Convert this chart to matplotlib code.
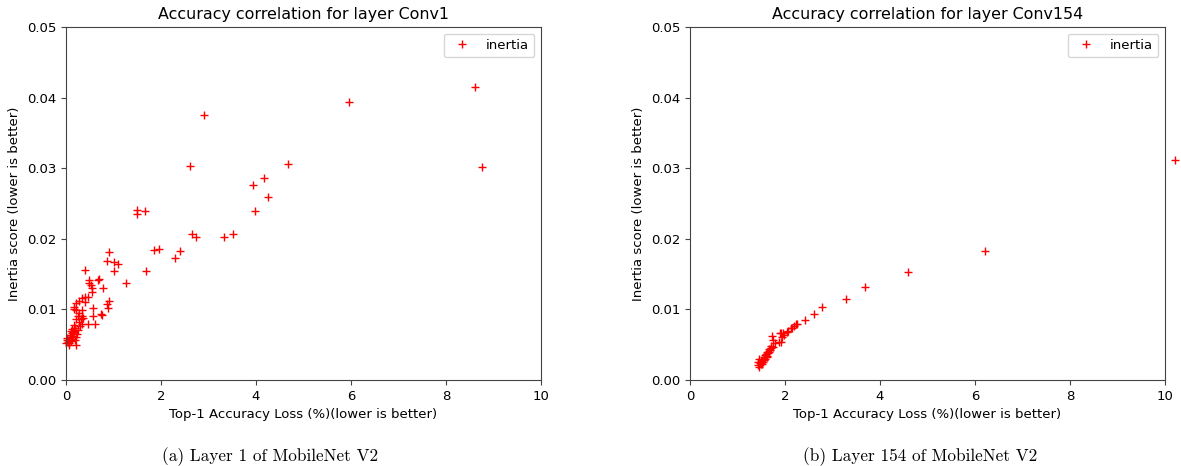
import matplotlib
matplotlib.use("Agg")
import matplotlib.pyplot as plt

# Layer 1 (Conv1): top-1 accuracy loss (%) vs inertia score
conv1_loss = [8.61, 8.76, 5.96, 2.91, 2.61, 4.67, 4.17, 3.94, 4.25, 3.98,
              3.52, 3.33, 2.74, 2.65, 2.40, 2.29, 1.96, 1.85, 1.66, 1.49,
              1.49, 1.68, 1.27, 1.09, 1.02, 0.87, 0.91, 1.01, 0.40, 0.70,
              0.67, 0.48, 0.53, 0.55, 0.49, 0.77, 0.55, 0.41, 0.46, 0.34,
              0.27, 0.39, 0.20, 0.17, 0.21, 0.17, 0.91, 0.86, 0.89, 0.57,
              0.34, 0.33, 0.56, 0.74, 0.75, 0.60, 0.46, 0.25, 0.22, 0.31,
              0.28, 0.33, 0.17, 0.19, 0.15, 0.26, 0.12, 0.08, 0.05, 0.19,
              0.07, 0.22, 0.01, 0.03, 0.10, 0.14, 0.24, 0.11, 0.18, 0.30,
              0.06, 0.13, 0.02, 0.21, 0.09, 0.16, 0.36, 0.28, 0.12, 0.04]
conv1_score = [0.0415, 0.0302, 0.0394, 0.0375, 0.0303, 0.0306, 0.0286, 0.0276, 0.0259, 0.0239,
               0.0207, 0.0203, 0.0203, 0.0207, 0.0183, 0.0173, 0.0186, 0.0184, 0.0240, 0.0241,
               0.0235, 0.0155, 0.0137, 0.0164, 0.0167, 0.0169, 0.0181, 0.0154, 0.0156, 0.0143,
               0.0142, 0.0138, 0.0135, 0.0130, 0.0141, 0.0130, 0.0124, 0.0118, 0.0118, 0.0116,
               0.0112, 0.0110, 0.0109, 0.0103, 0.0099, 0.0100, 0.0112, 0.0107, 0.0102, 0.0102,
               0.0099, 0.0091, 0.0091, 0.0094, 0.0092, 0.0080, 0.0080, 0.0091, 0.0086, 0.0086,
               0.0082, 0.0080, 0.0078, 0.0073, 0.0068, 0.0071, 0.0066, 0.0061, 0.0057, 0.0057,
               0.0050, 0.0050, 0.0052, 0.0060, 0.0055, 0.0062, 0.0065, 0.0070, 0.0074, 0.0076,
               0.0053, 0.0058, 0.0056, 0.0061, 0.0064, 0.0069, 0.0088, 0.0095, 0.0072, 0.0054]

# Layer 154 (Conv154)
conv154_loss = [10.21, 6.21, 4.58, 3.68, 3.29, 2.78, 2.60, 2.41, 2.23, 2.18,
                2.14, 2.05, 1.98, 1.92, 1.91, 2.25, 2.12, 2.07, 1.96, 1.89,
                1.93, 1.88, 1.79, 1.75, 1.72, 1.74, 1.68, 1.44, 1.47, 1.50,
                1.52, 1.55, 1.58, 1.60, 1.63, 1.66, 1.70, 1.46, 1.49, 1.53,
                1.57, 1.61, 1.65, 1.42, 1.45, 1.51, 1.56, 1.62, 1.67, 1.71]
conv154_score = [0.0312, 0.0183, 0.0153, 0.0132, 0.0115, 0.0103, 0.0093, 0.0085, 0.0079, 0.0077,
                 0.0073, 0.0068, 0.0064, 0.0067, 0.0054, 0.0080, 0.0073, 0.0069, 0.0066, 0.0067,
                 0.0061, 0.0054, 0.0052, 0.0057, 0.0062, 0.0047, 0.0042, 0.0021, 0.0024, 0.0027,
                 0.0029, 0.0032, 0.0035, 0.0037, 0.0040, 0.0044, 0.0048, 0.0019, 0.0022, 0.0026,
                 0.0030, 0.0034, 0.0038, 0.0025, 0.0030, 0.0023, 0.0028, 0.0033, 0.0039, 0.0045]

panels = [
    ("Conv1", conv1_loss, conv1_score, "(a) Layer 1 of MobileNet V2"),
    ("Conv154", conv154_loss, conv154_score, "(b) Layer 154 of MobileNet V2"),
]

plt.rcParams['font.size'] = 9.5
plt.rcParams['axes.edgecolor'] = '#444444'
plt.rcParams['xtick.color'] = '#444444'
plt.rcParams['ytick.color'] = '#444444'
plt.rcParams['xtick.labelcolor'] = 'black'
plt.rcParams['ytick.labelcolor'] = 'black'

fig = plt.figure(figsize=(11.81, 4.66), dpi=100)
lefts = [0.0559, 0.5843]
caption_x = [0.229, 0.779]
for (name, loss, score, caption), left, cx in zip(panels, lefts, caption_x):
    ax = fig.add_axes([left, 0.1845, 0.4022, 0.7575])
    ax.plot(loss, score, '+', color='red', markersize=6, label='inertia', clip_on=False)
    ax.set_xlim(0, 10)
    ax.set_ylim(0, 0.05)
    ax.set_xticks([0, 2, 4, 6, 8, 10])
    ax.set_yticks([0.0, 0.01, 0.02, 0.03, 0.04, 0.05])
    ax.set_yticklabels(["0.00", "0.01", "0.02", "0.03", "0.04", "0.05"])
    ax.set_title(f"Accuracy correlation for layer {name}", fontsize=11.4)
    ax.set_xlabel("Top-1 Accuracy Loss (%)(lower is better)")
    ax.set_ylabel("Inertia score (lower is better)")
    ax.legend(loc='upper right')
    fig.text(cx, 0.01, caption, ha='center', family='cmr10', fontsize=12.4)

fig.savefig("out.png", dpi=100)
